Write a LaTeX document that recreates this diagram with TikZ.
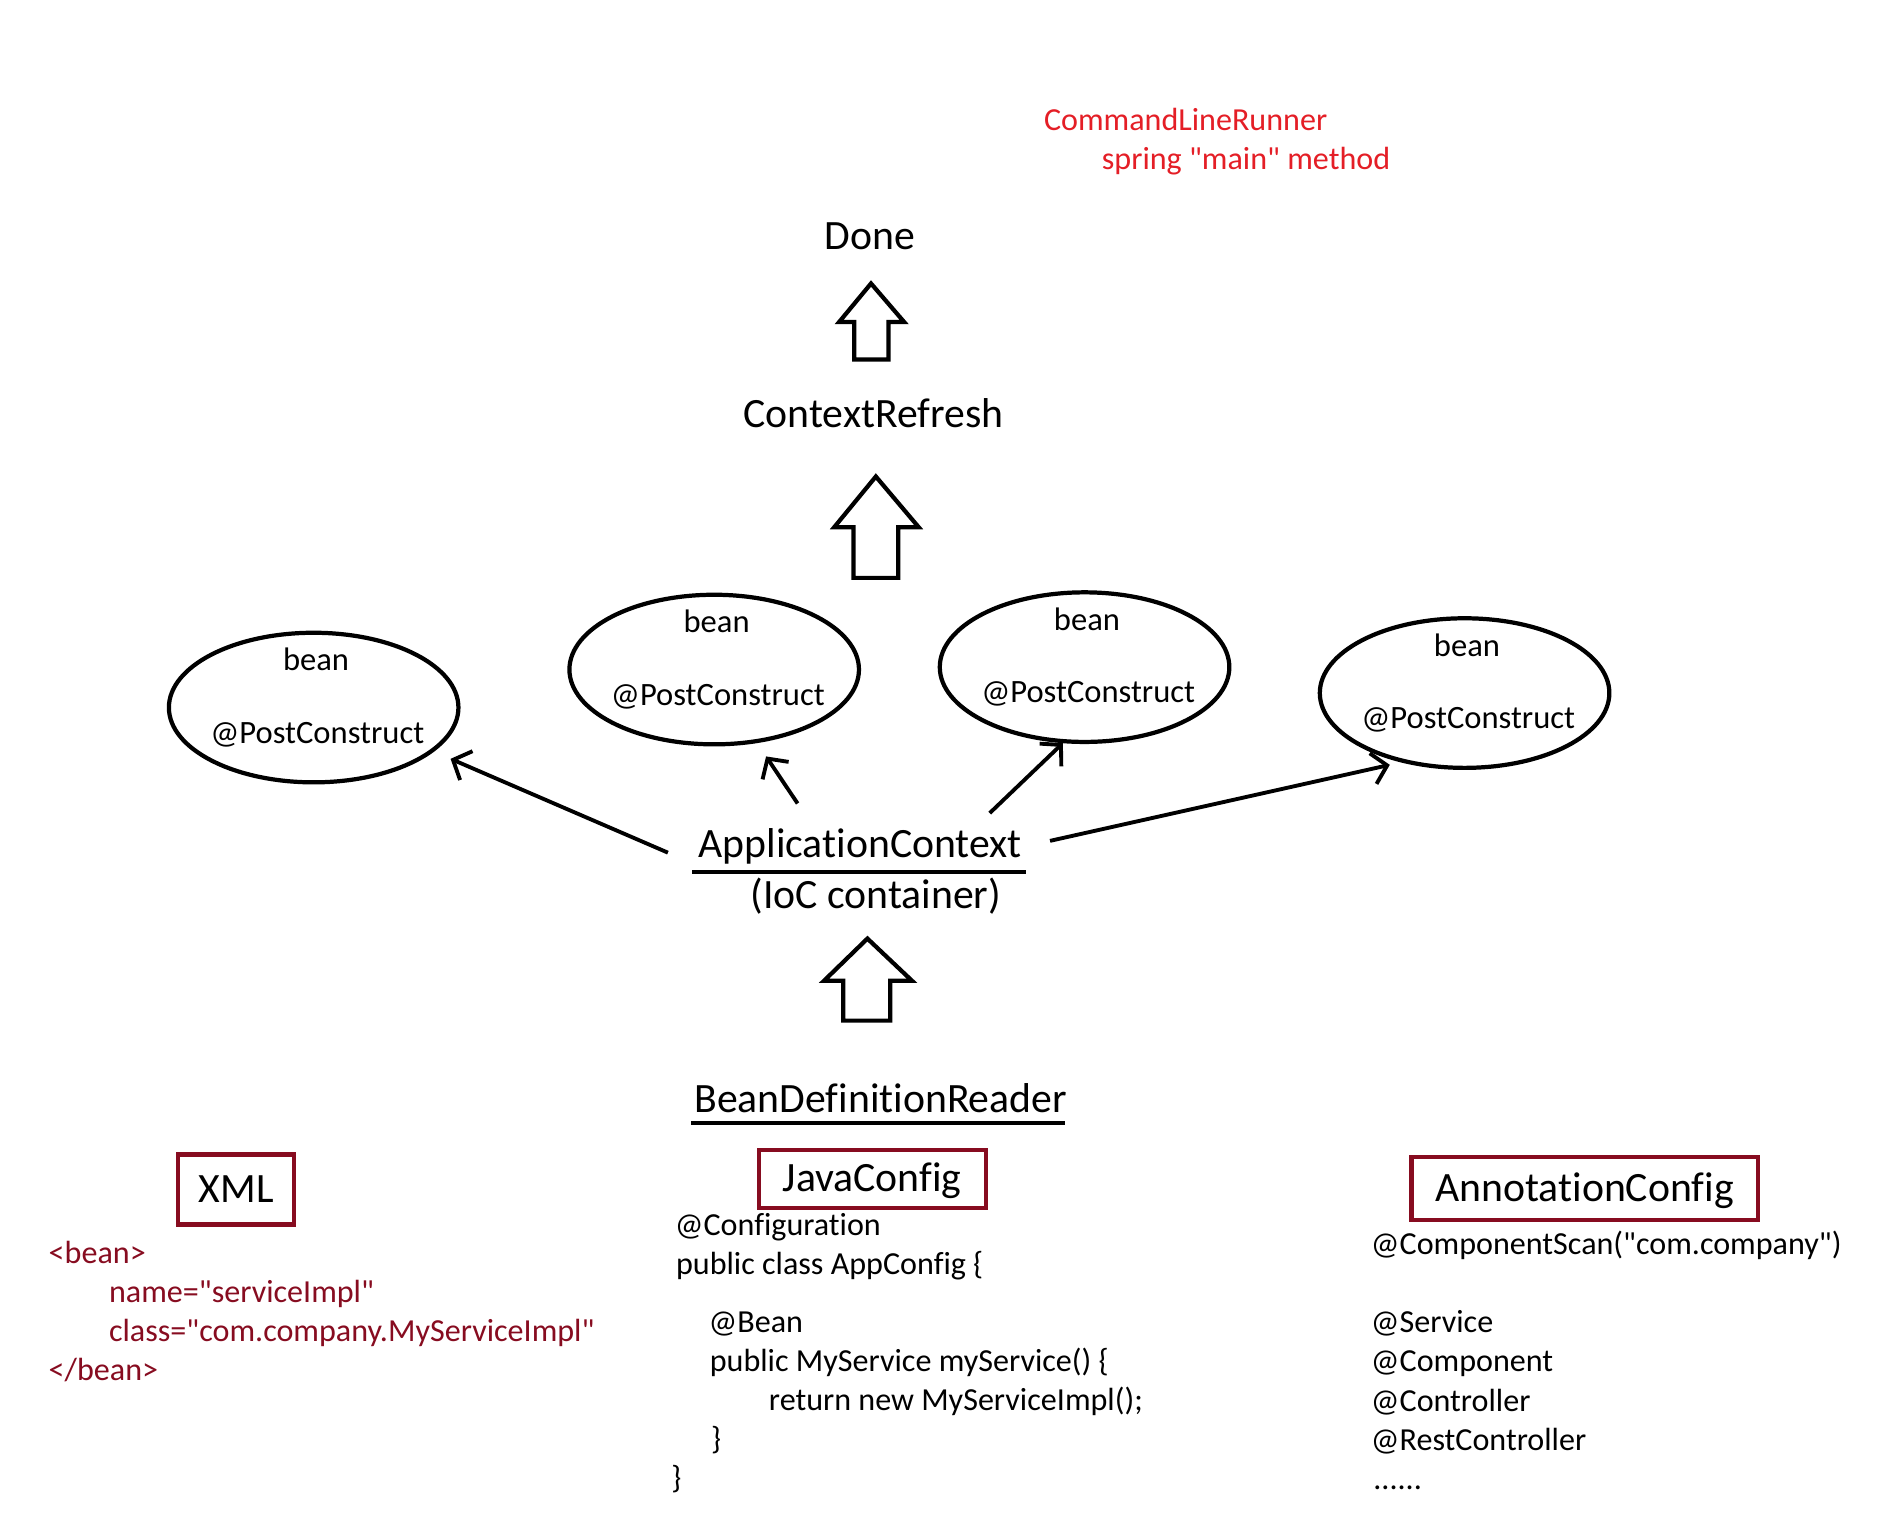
\documentclass[tikz,border=0pt]{standalone}
\usepackage{fontspec}
\setmainfont{Carlito}
\newfontfamily\calib{Carlito}[Ligatures={NoCommon}]
\usetikzlibrary{arrows.meta,shapes.geometric}
\definecolor{redtxt}{RGB}{228,30,38}
\definecolor{dred}{RGB}{135,12,32}
\begin{document}
\begin{tikzpicture}[x=0.5pt,y=-0.5pt,
  big/.style={font=\calib\fontsize{17.3pt}{20pt}\selectfont, inner sep=0pt, anchor=base},
  small/.style={font=\calib\fontsize{13.3pt}{16pt}\selectfont, inner sep=0pt, anchor=base west},
  smallc/.style={font=\calib\fontsize{13.5pt}{16pt}\selectfont, inner sep=0pt, anchor=base},
  beanell/.style={ellipse, draw, line width=1.75pt, minimum width=120pt, minimum height=62pt, inner sep=0pt},
  fat/.style={draw, line width=1.75pt, line join=miter},
  conn/.style={line width=1.6pt, -{Straight Barb[length=6pt,width=13pt]}},
  uline/.style={line width=1.65pt},
  cfgbox/.style={draw=dred, line width=1.75pt, font=\calib\fontsize{17.3pt}{20pt}\selectfont, inner sep=0pt, text height=11pt, text depth=0pt}
]
\useasboundingbox (0,0) rectangle (1560,1271.5);

% top red text
\node[small, text=redtxt] (clr) at (865,108.5) {CommandLineRunner};
\node[small, text=redtxt] (spm) at (913,140.5) {spring "main" method};

% Done / ContextRefresh
\node[big] (done) at (721,207) {Done};
\draw[fat] (722,235) -- (749.5,267) -- (736.5,267) -- (736.5,298) -- (708,298) -- (708,267) -- (695.5,267) -- cycle;
\node[big] (cref) at (724,354) {ContextRefresh};
\draw[fat] (726,395) -- (761.5,437) -- (744.5,437) -- (744.5,479) -- (707.5,479) -- (707.5,437) -- (691.5,437) -- cycle;

% beans
\node[beanell] (e1) at (260,586.5) {};
\node[beanell] (e2) at (592,555) {};
\node[beanell] (e3) at (899,553) {};
\node[beanell] (e4) at (1214,574.5) {};
\foreach \e in {e1,e2,e3,e4}{
  \node[smallc] at ([shift={(2,-30.7)}]\e.center) {bean};
  \node[smallc] at ([shift={(3,29.6)}]\e.center) {@PostConstruct};
}

% ApplicationContext
\node[big] (app) at (713,711) {ApplicationContext};
\draw[uline] ([shift={(-5,12)}]app.base west) -- ([shift={(3,12)}]app.base east);
\node[big] (ioc) at (726,753) {(IoC container)};

\draw[conn] ([shift={(-25,5)}]app.west) -- ([shift={(113.5,42.5)}]e1.center);
\draw[conn] ([shift={(82.5,-45)}]app.base west) -- ([shift={(43,72)}]e2.center);
\draw[conn] ([shift={(-27,-37)}]app.base east) -- ([shift={(-18,63)}]e3.center);
\draw[conn] ([shift={(23,-14)}]app.base east) -- ([shift={(-62,59.5)}]e4.center);

\draw[fat] (719,778) -- (756,813) -- (738,813) -- (738,846) -- (699,846) -- (699,813) -- (683,813) -- cycle;

% BeanDefinitionReader
\node[big] (bdr) at (730,922) {BeanDefinitionReader};
\draw[uline] ([shift={(-2,9)}]bdr.base west) -- ([shift={(-2,9)}]bdr.base east);

% config boxes
\node[cfgbox, minimum width=48.25pt, minimum height=29pt] (xml) at (195.75,986) {XML};
\node[cfgbox, minimum width=94pt, minimum height=24pt] (jc) at (723,977) {JavaConfig};
\node[cfgbox, minimum width=143.5pt, minimum height=26pt] (ac) at (1313.5,985) {AnnotationConfig};

% XML code
\node[small, text=dred] (x1) at (40,1047) {<bean>};
\node[small, text=dred] (x2) at (90,1080) {name="serviceImpl"};
\node[small, text=dred] (x3) at (90,1112) {class="com.company.MyServiceImpl"};
\node[small, text=dred] (x4) at (40,1144) {</bean>};

% Java code
\node[small] (j1) at (559,1024) {@Configuration};
\node[small] (j2) at (560,1056.3) {public class AppConfig \{};
\node[small] (j3) at (587,1104.8) {@Bean};
\node[small] (j4) at (588,1137.1) {public MyService myService() \{};
\node[small] (j5) at (637,1169.4) {return new MyServiceImpl();};
\node[small] (j6) at (589,1201.7) {\}};
\node[small] (j7) at (556,1234) {\}};

% Annotation code
\node[small] (a1) at (1136,1040) {@ComponentScan("com.company")};
\node[small] (a2) at (1136,1104.5) {@Service};
\node[small] (a3) at (1136,1137) {@Component};
\node[small] (a4) at (1136,1170) {@Controller};
\node[small] (a5) at (1136,1202) {@RestController};
\node[small] (a6) at (1138,1235) {......};
\end{tikzpicture}
\end{document}
